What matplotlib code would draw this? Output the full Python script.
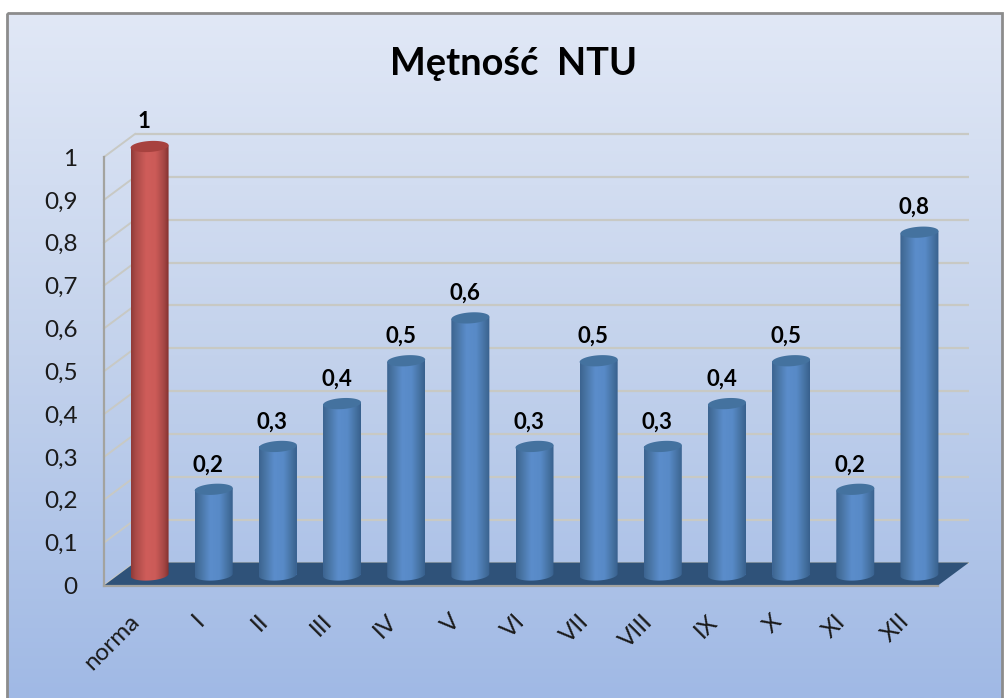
import matplotlib
matplotlib.use("Agg")
import matplotlib.pyplot as plt
import numpy as np
from matplotlib.colors import LinearSegmentedColormap
from matplotlib.patches import Polygon, Rectangle
from matplotlib.transforms import Affine2D

plt.rcParams['font.family'] = ['Lato', 'DejaVu Sans']

categories = ["norma", "I", "II", "III", "IV", "V", "VI", "VII", "VIII", "IX", "X", "XI", "XII"]
values = [1, 0.2, 0.3, 0.4, 0.5, 0.6, 0.3, 0.5, 0.3, 0.4, 0.5, 0.2, 0.8]
y_ticks = [0, 0.1, 0.2, 0.3, 0.4, 0.5, 0.6, 0.7, 0.8, 0.9, 1]

W, H = 1005, 698
X0, X1, Y0, Y1 = 104, 938, 585.5, 157   # front plane of the 3d box, in pixels
PX_X = (X1 - X0) / 13
PX_Y = Y0 - Y1


def comma(v):
    return f"{v:g}".replace(".", ",")


fig = plt.figure(figsize=(W / 100, H / 100), dpi=100, facecolor='white')

# background panel with its grey border
bg = fig.add_axes([0, 0, 1, 1])
bg.axis('off')
bg_cmap = LinearSegmentedColormap.from_list("bg", ["#E1E8F6", "#C3D2EC", "#A0B9E5"])
bg.imshow(np.linspace(0, 1, 256).reshape(-1, 1), cmap=bg_cmap, aspect='auto',
          extent=[7, 1002, H, 13], zorder=0)
bg.set_xlim(0, W)
bg.set_ylim(H, 0)
bg.add_patch(Rectangle((7, 13), 995, 700, fill=False, ec='#8C8C8C', lw=2, zorder=1))

ax = fig.add_axes([X0 / W, 1 - Y0 / H, (X1 - X0) / W, (Y0 - Y1) / H])
ax.patch.set_alpha(0)

# depth of the box and shift of the bars, in data units
depth_x = 31 / PX_X
depth_y = 23 / PX_Y
bar_dx = 13.5 / PX_X
bar_dy = 10.5 / PX_Y
half_w = 19 / PX_X
cap_h = 5.5 / PX_Y
tilt = 1.2 / PX_Y / half_w

# walls
grid_col = '#C8C9C4'
for t in y_ticks:
    ax.plot([-0.5 + depth_x, 12.5 + depth_x], [t + depth_y, t + depth_y], color=grid_col, lw=1.6,
            clip_on=False, zorder=1, solid_capstyle='butt')
    ax.plot([-0.5, -0.5 + depth_x], [t, t + depth_y], color=grid_col, lw=1.4, clip_on=False, zorder=1)

# floor
floor = [(-0.5, 0), (-0.5 + depth_x, depth_y), (12.5 + depth_x, depth_y), (12.5, 0)]
ax.add_patch(Polygon(floor, closed=True, fc='#2F5279', ec='none', clip_on=False, zorder=2))

# bars
x = np.arange(len(categories))
colors = ['#C0504D'] + ['#4F81BD'] * 12
bars = ax.bar(x + bar_dx, values, width=2 * half_w * 0.98, bottom=bar_dy, color=colors, zorder=3, clip_on=False)

blue_cmap = LinearSegmentedColormap.from_list(
    "blue", [(0, '#3C6390'), (0.12, '#46719F'), (0.4, '#5B8DCB'), (0.65, '#588AC7'), (0.88, '#44709F'), (1, '#38608D')])
red_cmap = LinearSegmentedColormap.from_list(
    "red", [(0, '#8E3A38'), (0.12, '#AA4A47'), (0.4, '#CF5D5A'), (0.65, '#CC5B58'), (0.88, '#A34644'), (1, '#83302E')])
grad = np.linspace(0, 1, 128).reshape(1, -1)
t_arc = np.linspace(0, 2 * np.pi, 80)

for i, v in enumerate(values):
    cx = x[i] + bar_dx
    top = v + bar_dy
    cap_col = '#A7423F' if i == 0 else '#44729F'
    cmap = red_cmap if i == 0 else blue_cmap

    ex = half_w * np.cos(t_arc)
    lower = t_arc[t_arc >= np.pi]
    bx = half_w * np.cos(lower)
    by = bar_dy + cap_h * np.sin(lower) + tilt * bx
    outline = np.vstack([
        np.column_stack([cx + bx, by]),
        [[cx + half_w, top + tilt * half_w], [cx - half_w, top - tilt * half_w]],
    ])
    clip = Polygon(outline, closed=True, transform=ax.transData)
    im = ax.imshow(grad, cmap=cmap, aspect='auto', zorder=4,
                   extent=[cx - half_w, cx + half_w, 0, top + cap_h])
    im.set_clip_box(fig.bbox)
    im.set_clip_path(clip)

    ax.fill(cx + ex, top + cap_h * np.sin(t_arc) + tilt * ex, color=cap_col, zorder=5, clip_on=False, lw=0)

    ax.annotate(comma(v), (x[i], v), xytext=(8, 35), textcoords='offset pixels', ha='center', va='center',
                fontsize=16, fontweight='bold', color='black', annotation_clip=False, zorder=6)

ax.set_xlim(-0.5, 12.5)
ax.set_ylim(0, 1)

ax.set_yticks(y_ticks)
ax.set_yticklabels([comma(t) for t in y_ticks], fontsize=17.5, color='#1A1A1A')
ax.set_xticks(x)
ax.set_xticklabels(categories, rotation=45, ha='right', rotation_mode='anchor', fontsize=17.5, color='#1A1A1A')
ax.tick_params(axis='y', length=0, pad=19)
ax.tick_params(axis='x', length=0, pad=18)
for label in ax.get_xticklabels():
    label.set_transform(label.get_transform() + Affine2D().translate(-7, 0))
for s in ['top', 'right']:
    ax.spines[s].set_visible(False)
for s in ['left', 'bottom']:
    ax.spines[s].set_color('#A3A39F')
    ax.spines[s].set_linewidth(1.6)
    ax.spines[s].set_zorder(3)

fig.text(514 / W, 1 - 64 / H, "Mętność  NTU", ha='center', va='center', fontsize=27.4, fontweight='bold', color='black')

fig.savefig("out.png", dpi=100)
